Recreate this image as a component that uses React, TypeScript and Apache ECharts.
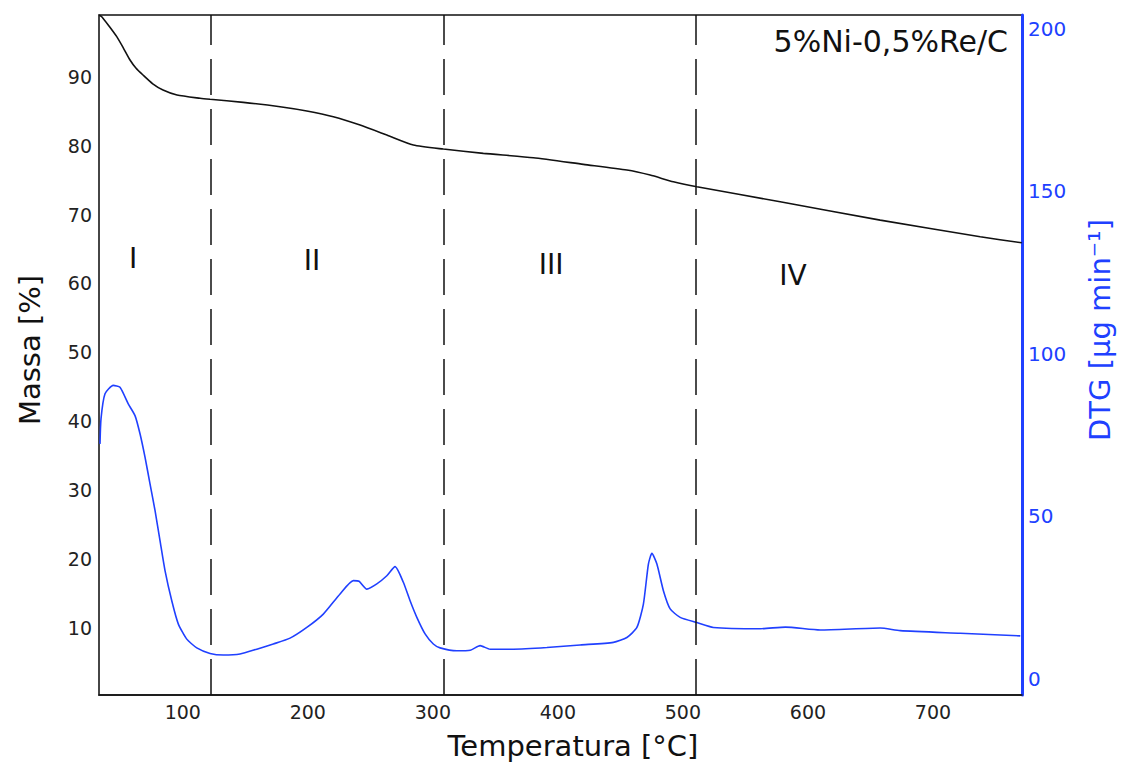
import React, { useEffect, useRef } from "react";
import * as echarts from "echarts";

// Temperature [°C] vs mass [%] (TG curve)
const MASS_T = [33, 35.2, 41, 47.2, 52.5, 57.8, 62.5, 68.2, 76, 84.2, 95.4, 113.8, 121.8, 148.4, 177.8, 199.2, 220.4, 241.8, 263.2, 284.4, 308.4, 340.4, 380.4, 420.4, 455.2, 473.8, 492.4, 511.2, 577.8, 657.8, 737.8, 771];
const MASS_V = [99.0, 98.75, 97.4, 95.85, 94.2, 92.46, 91.3, 90.28, 89.0, 88.1, 87.37, 86.9, 86.75, 86.31, 85.67, 85.05, 84.22, 83.01, 81.56, 80.11, 79.52, 78.9, 78.26, 77.3, 76.47, 75.74, 74.77, 74.04, 71.86, 69.2, 66.78, 65.9];

// Temperature [°C] vs DTG [µg/min]
const DTG_T = [33.8, 34.6, 37.8, 44.4, 49.8, 56.4, 61.8, 65.8, 69.8, 73.8, 77.8, 81.8, 85.8, 91.2, 96.4, 103.2, 111.2, 121.8, 132.4, 145.8, 159.2, 172.4, 185.8, 199.2, 212.4, 225.8, 236.4, 241, 247.2, 255.2, 263.2, 269.8, 276.4, 281.8, 287.2, 293.8, 300.4, 305.8, 319.2, 330, 337.8, 345.8, 364.4, 391.2, 417.8, 444.4, 455.2, 463.2, 468.4, 472.4, 475.2, 479.2, 484.4, 489.8, 497.8, 511.2, 524.4, 561.8, 582, 609.8, 657.8, 673.8, 721.8, 769.8];
const DTG_V = [72.3, 80.0, 87.7, 90.3, 89.7, 84.6, 81.0, 75.4, 68.2, 60.0, 51.8, 42.5, 33.3, 24.0, 16.9, 12.2, 9.5, 7.8, 7.3, 7.6, 9.1, 10.7, 12.5, 15.8, 19.9, 26.1, 30.2, 30.0, 27.6, 29.2, 31.7, 34.5, 29.7, 24.0, 18.9, 13.8, 10.7, 9.5, 8.6, 8.8, 10.2, 9.1, 9.1, 9.6, 10.4, 11.2, 12.7, 15.8, 23.0, 35.3, 38.6, 35.3, 27.1, 21.5, 18.9, 17.3, 15.8, 15.4, 15.9, 15.0, 15.6, 14.8, 14.0, 13.2];

const X_TICKS = [100, 200, 300, 400, 500, 600, 700];
const MASS_TICKS = [10, 20, 30, 40, 50, 60, 70, 80, 90];
const DTG_TICKS = [0, 50, 100, 150, 200];
const DIVIDERS = [122, 309, 510.6];
const ZONES = ["I", "II", "III", "IV"];
const ZONE_T = [60.2, 203.4, 394.6, 588];
const ZONE_M = [63.6, 63.3, 62.7, 61.2];
const TITLE = "5%Ni-0,5%Re/C";

const BLUE = "#2040ff";
const FONT = "DejaVu Sans";

export default function App() {
  const ref = useRef<HTMLDivElement>(null);
  useEffect(() => {
    if (!ref.current) return;
    const chart = echarts.init(ref.current, null, { renderer: "svg" });
    const labelStyle = { fontFamily: FONT, fontSize: 19, color: "#222" };
    chart.setOption({
      animation: false,
      backgroundColor: "#fff",
      grid: { left: 99, right: 99, top: 15, bottom: 72, show: true, borderColor: "#111", borderWidth: 1.5, backgroundColor: "transparent" },
      xAxis: {
        type: "value",
        min: 33,
        max: 771.2,
        axisLine: { show: true, onZero: false, lineStyle: { color: "#111", width: 1.5 } },
        axisTick: { show: false },
        splitLine: { show: false },
        axisLabel: { ...labelStyle, margin: 7, customValues: X_TICKS },
      },
      yAxis: [
        {
          type: "value",
          min: 0.2,
          max: 99,
          position: "left",
          axisLine: { show: true, onZero: false, lineStyle: { color: "#444", width: 1.5 } },
          axisTick: { show: false },
          splitLine: { show: false },
          axisLabel: { ...labelStyle, margin: 7, customValues: MASS_TICKS },
        },
        {
          type: "value",
          min: -5,
          max: 204.3,
          position: "right",
          axisLine: { show: true, onZero: false, lineStyle: { color: BLUE, width: 3 } },
          axisTick: { show: false },
          splitLine: { show: false },
          axisLabel: { ...labelStyle, color: BLUE, fontSize: 20, margin: 6, customValues: DTG_TICKS },
        },
      ],
      series: [
        {
          name: "Massa",
          type: "line",
          yAxisIndex: 0,
          data: MASS_T.map((t, i) => [t, MASS_V[i]]),
          showSymbol: false,
          smooth: 0.2,
          lineStyle: { color: "#111", width: 1.6 },
          markLine: {
            silent: true,
            symbol: "none",
            label: { show: false },
            lineStyle: { color: "#111", type: [36, 14], width: 1.5 },
            data: DIVIDERS.map((v) => ({ xAxis: v })),
          },
          markPoint: {
            silent: true,
            symbol: "rect",
            symbolSize: 1,
            itemStyle: { color: "transparent" },
            label: { show: true, position: "inside", formatter: "{b}", color: "#111", fontSize: 28, fontFamily: FONT },
            data: ZONES.map((z, i) => ({ name: z, coord: [ZONE_T[i], ZONE_M[i]] })),
          },
        },
        {
          name: "DTG",
          type: "line",
          yAxisIndex: 1,
          data: DTG_T.map((t, i) => [t, DTG_V[i]]),
          showSymbol: false,
          smooth: 0.2,
          lineStyle: { color: BLUE, width: 1.6 },
        },
      ],
      graphic: [
        {
          type: "text",
          x: 1008,
          y: 41,
          style: { text: TITLE, align: "right", verticalAlign: "middle", fontSize: 30, fontFamily: FONT, fill: "#111" },
        },
        {
          type: "text",
          x: 30,
          y: 350,
          rotation: Math.PI / 2,
          style: { text: "Massa [%]", align: "center", verticalAlign: "middle", fontSize: 29, fontFamily: FONT, fill: "#111" },
        },
        {
          type: "text",
          x: 573,
          y: 746,
          style: { text: "Temperatura [°C]", align: "center", verticalAlign: "middle", fontSize: 29, fontFamily: FONT, fill: "#111" },
        },
        {
          type: "text",
          x: 1100,
          y: 330,
          rotation: Math.PI / 2,
          style: { text: "DTG [µg min⁻¹]", align: "center", verticalAlign: "middle", fontSize: 29, fontFamily: FONT, fill: BLUE },
        },
      ],
    });
    return () => chart.dispose();
  }, []);
  return <div ref={ref} style={{ position: "fixed", left: 0, top: 0, width: 1121, height: 767 }} />;
}
